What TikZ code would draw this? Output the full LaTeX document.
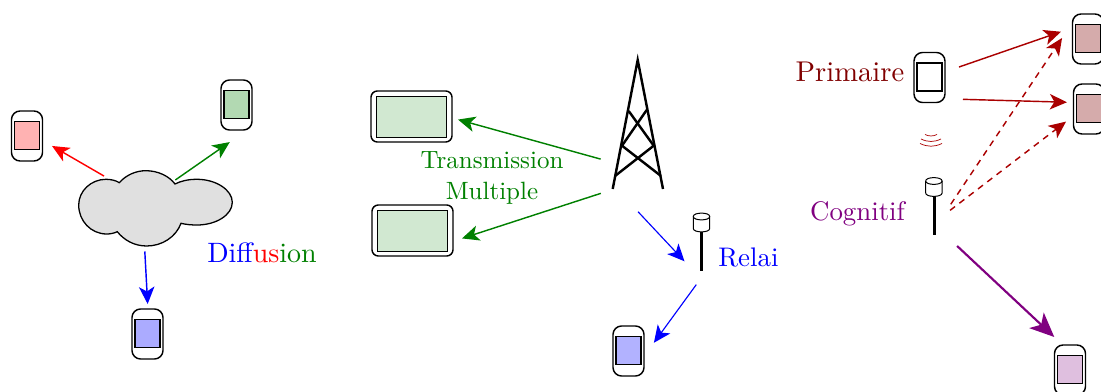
\documentclass[tikz,border=0pt]{standalone}
\usepackage{amsmath,amssymb,amsfonts}
\usepackage{xcolor}
\usetikzlibrary{positioning,arrows.meta}

\definecolor{txgreen}{RGB}{0,128,0}
\definecolor{primred}{RGB}{128,0,0}
\definecolor{primarrow}{RGB}{170,0,0}
\definecolor{cogpurple}{RGB}{128,0,128}

\tikzset{
    >={Stealth[length=6pt,width=5.4pt,inset=1.6pt]},
    link/.style={line width=0.5pt},
    phone/.style={draw, line width=0.5pt, rounded corners=3pt, inner sep=0pt, outer sep=0pt, minimum width=10.85pt, minimum height=17.5pt},
    tablet/.style={draw, line width=0.5pt, rounded corners=2.2pt, inner sep=0pt, outer sep=0pt, minimum width=28.35pt, minimum height=17.85pt},
    phonescreen/.style={draw, line width=0.5pt, inner sep=0pt, minimum width=8.7pt, minimum height=9.9pt},
    tabletscreen/.style={draw, line width=0.5pt, inner sep=0pt, minimum width=24.6pt, minimum height=14.4pt},
    antbox/.style={inner sep=0pt, outer sep=0pt, minimum width=5.8pt, minimum height=20pt},
    antpole/.style={line width=1.05pt},
    towerline/.style={line width=0.85pt},
    wave/.style={primarrow, line width=0.25pt},
    lbl/.style={inner sep=0pt},
    pics/anthead/.style={code={
        \draw[line width=0.35pt, fill=white] (-8.2,-6) -- (-8.2,6) .. controls (-8.2,10.5) and (8.2,10.5) .. (8.2,6) -- (8.2,-6);
        \draw[line width=0.35pt] (-8.2,-6) .. controls (-8.2,-10.5) and (8.2,-10.5) .. (8.2,-6) .. controls (8.2,-1.5) and (-8.2,-1.5) .. (-8.2,-6) -- cycle;
    }}
}

\begin{document}
\begin{tikzpicture}[x=0.35pt, y=-0.35pt]
    \useasboundingbox (0,0) rectangle (1101,392);
    \clip (0,0) rectangle (1101,392);

    % diffusion
    \draw[fill=black!12, line width=0.45pt] (119.3,182.7) .. controls (126,175) and (136,170.7) .. (145.7,170.7)
        .. controls (158,170.7) and (169,176) .. (175,184)
        .. controls (181,181) and (188,179.3) .. (197,179.3)
        .. controls (216,179.3) and (232.3,190) .. (232.3,202.3)
        .. controls (232.3,215) and (216,225) .. (197,225)
        .. controls (191,225) and (186,224.5) .. (181,223.3)
        .. controls (176,237) and (162,246) .. (146.7,246)
        .. controls (134,246) and (124,240) .. (117.3,231.7)
        .. controls (114,233.3) and (110,234) .. (106.7,234)
        .. controls (91,234) and (78.7,221) .. (78.7,205)
        .. controls (78.7,191) and (91,179.3) .. (106,179.3)
        .. controls (111,179.3) and (116,180.5) .. (119.3,182.7) -- cycle;
    \node[inner sep=0pt, outer sep=0pt, minimum width=35pt, minimum height=17.5pt] (cloud) at (156,208) {};

    \node[phone] (p_red) at (27,136) {};
    \node[phonescreen, fill=red!30] (s_red) at (27,135.5) {};
    \node[phone] (p_green) at (236.5,105) {};
    \node[phonescreen, fill=txgreen!30] (s_green) at (236.5,104.5) {};
    \node[phone] (p_blue) at (147.5,334) {};
    \node[phonescreen, fill=blue!33] (s_blue) at (147.5,333.5) {};

    \node[lbl, scale=0.98] (diffusion) at (262,253) {\color{blue}Diff\color{red}us\color{txgreen}ion};

    \path[->, link]
        (cloud.148.7) edge [red, shorten <=4.83pt, shorten >=3.85pt] (p_red.344.2)
        (cloud.59.5) edge [txgreen, shorten <=1.85pt, shorten >=7.4pt] (p_green.293.6)
        (cloud.244.5) edge [blue, shorten <=6.48pt, shorten >=1.75pt] (p_blue.89.5);

    % transmission multiple
    \node[tablet] (t_top) at (411.5,116.5) {};
    \node[tabletscreen, fill=txgreen!18] (s_top) at (411.5,117) {};
    \node[tablet] (t_bot) at (412.5,230.5) {};
    \node[tabletscreen, fill=txgreen!18] (s_bot) at (412.5,231) {};
    \node[lbl, scale=0.875, font=\fontsize{10}{12.4}\selectfont, text=txgreen, align=center] (multi) at (492,178) {Transmission\\Multiple};

    \node[inner sep=0pt, outer sep=0pt, minimum width=17.85pt, minimum height=45.15pt] (tower) at (637.7,124.5) {};
    \draw[towerline] (612.7,189) -- (637.7,60) -- (663,189);
    \draw[towerline] (628.7,111) -- (653.7,145.7) -- (615,176);
    \draw[towerline] (646.7,110) -- (622,145.7) -- (661,176);

    \path[->, link, txgreen]
        (tower.236.5) edge [shorten <=4.19pt, shorten >=2.18pt] (t_top.358.9)
        (tower.250.7) edge [shorten <=4.94pt, shorten >=3.31pt] (t_bot.345.6);

    % relai
    \node[antbox] (relai) at (701.5,242) {};
    \draw[antpole] (701,232) -- (701,270.5);
    \pic at (701.5,222.5) {anthead};
    \node[phone] (p_relai) at (628.5,351) {};
    \node[phonescreen, fill=blue!30] (s_relai) at (628.5,350.5) {};
    \node[lbl, scale=0.94, text=blue] (relai_txt) at (748.5,257) {Relai};

    \path[->, line width=0.4pt, blue]
        (tower.252.45) edge [shorten <=10.9pt, shorten >=4.45pt] (relai.south west)
        (relai.280.7) edge [shorten <=6.09pt, shorten >=5.88pt] (p_relai.341.5);

    % cognitif
    \node[phone] (p_prim) at (929.5,77.5) {};
    \node[phonescreen, fill=white] (s_prim) at (929.5,77) {};
    \node[phone] (p_one) at (1088,39) {};
    \node[phonescreen, fill=primred!33] (s_one) at (1088,38.5) {};
    \node[phone] (p_two) at (1089,109) {};
    \node[phonescreen, fill=primred!33] (s_two) at (1089,108.5) {};
    \node[phone] (p_cog) at (1070,370) {};
    \node[phonescreen, fill=cogpurple!25] (s_cog) at (1070,369.5) {};
    \node[lbl, text=primred] (prim_txt) at (850,72) {Primaire};
    \node[lbl, scale=0.94, text=cogpurple] (cog_txt) at (857.5,214) {Cognitif};

    \node[antbox] (cog) at (933.9,206.5) {};
    \draw[antpole] (934,196) -- (934,235);
    \pic at (933.9,187) {anthead};

    \draw[wave] (925,134.5) to[bend right=25] (937,134.5);
    \draw[wave] (921,139) to[bend right=25] (941,139);
    \draw[wave] (920,143.5) to[bend right=25] (942,143.5);

    \path[->, link, primarrow]
        (p_prim.20.2) edge [shorten <=5.18pt, shorten >=4.26pt] (p_one.144.8)
        (p_prim.306) edge [shorten <=6.3pt, shorten >=2.28pt] (p_two.157.25)
        (cog.308.5) edge [dash pattern=on 2.2pt off 1.9pt, shorten <=5.4pt, shorten >=6.58pt] (p_one.133.6)
        (cog.310.8) edge [dash pattern=on 2.2pt off 1.9pt, shorten <=3.47pt, shorten >=3.29pt] (p_two.204.3);
    \path[-{Stealth[length=8.5pt,width=7.4pt,inset=2.2pt]}, cogpurple, line width=0.75pt]
        (cog.288.1) edge [shorten <=7.18pt, shorten >=4.1pt] (p_cog.106.7);
\end{tikzpicture}
\end{document}
